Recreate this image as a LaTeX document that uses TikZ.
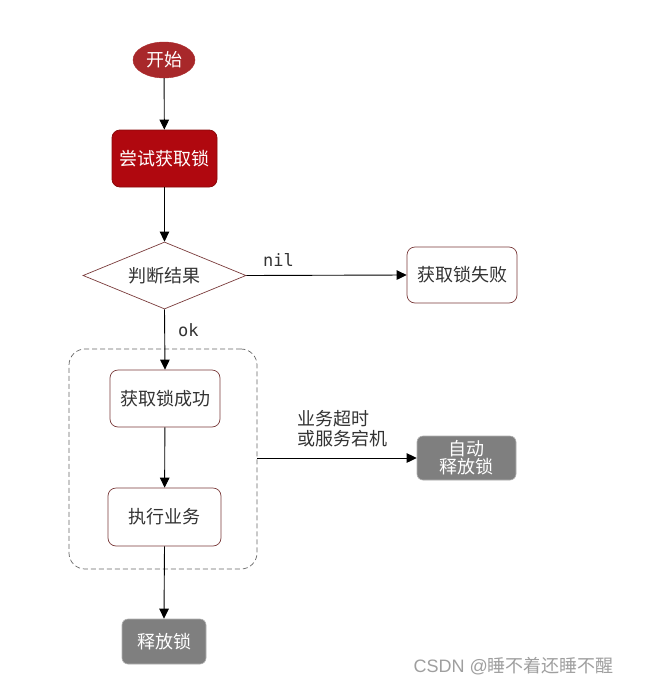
\documentclass[tikz,border=0pt]{standalone}
\usepackage{fontspec}
\setmainfont{Noto Sans CJK SC}
\newfontfamily\monof{DejaVu Sans Mono}
\newfontfamily\wmf{Liberation Sans}
\usetikzlibrary{arrows.meta,shapes.geometric}
\definecolor{startred}{HTML}{A8282A}
\definecolor{tryred}{HTML}{B0080F}
\definecolor{tryborder}{HTML}{8A0A0A}
\definecolor{edge}{HTML}{7A3B3B}
\definecolor{grayfill}{HTML}{7F7F7F}
\definecolor{txt}{HTML}{333333}
\tikzset{
  conn/.style={draw=black, line width=0.9pt, -{Triangle[length=10pt,width=9.5pt]}},
  plainbox/.style={draw=edge, line width=0.7pt, fill=white, rounded corners=8pt,
    minimum width=110pt, minimum height=57pt, text=txt, font=\fontsize{18}{20}\selectfont},
  graybox/.style={draw=gray!60, line width=0.6pt, fill=grayfill, rounded corners=6pt,
    text=white, font=\fontsize{18}{20}\selectfont, align=center, inner sep=0pt},
  lbl/.style={text=txt, font=\fontsize{18}{20}\selectfont, align=left, inner sep=0pt},
  monolbl/.style={text=txt, font=\monof\fontsize{17}{20}\selectfont, inner sep=0pt}
}
\begin{document}
\begin{tikzpicture}[x=1pt,y=-1pt]
\useasboundingbox (0,0) rectangle (665,686);
\fill[white] (0,0) rectangle (665,686);
% nodes
\node[ellipse, fill=startred, draw=startred, minimum width=62pt, minimum height=36pt, inner sep=0pt,
  text=white, font=\fontsize{18}{20}\selectfont] (start) at (164,60) {开始};
\node[draw=tryborder, fill=tryred, line width=0.8pt, rounded corners=8pt, minimum width=105pt,
  minimum height=57pt, text=white, font=\fontsize{18}{20}\selectfont] (try) at (164.5,158.5) {尝试获取锁};
\node[diamond, draw=edge, line width=0.7pt, fill=white, minimum width=163pt, minimum height=67pt,
  inner sep=0pt, aspect=2.4, text=txt, font=\fontsize{18}{20}\selectfont] (judge) at (164.5,275.5) {判断结果};
\node[plainbox, minimum width=110pt, minimum height=56pt] (fail) at (462,275) {获取锁失败};
\node[draw=gray!80!black, dashed, dash pattern=on 5pt off 3pt, line width=0.7pt, rounded corners=16pt,
  minimum width=188pt, minimum height=220pt] (group) at (163,459) {};
\node[plainbox, minimum width=110pt, minimum height=57pt] (succ) at (165,398.5) {获取锁成功};
\node[plainbox, minimum width=113pt, minimum height=58pt] (exec) at (164.5,517) {执行业务};
\node[graybox, minimum width=99pt, minimum height=44pt] (auto) at (466.5,458) {自动\\[-2pt]释放锁};
\node[graybox, minimum width=84pt, minimum height=45pt] (rel) at (164,641.5) {释放锁};
% connectors
\draw[conn] (start) -- (try);
\draw[conn] (try) -- (judge);
\draw[conn] (judge.east) -- node[monolbl, above=8pt, pos=0.2] (nil) {nil} (fail.west);
\draw[conn] (judge.south) -- node[monolbl, right=13pt, pos=0.35] (ok) {ok} (succ.north);
\draw[conn] (succ) -- (exec);
\draw[conn] (exec.south) -- (rel.north);
\draw[conn] (group.east |- auto.west) -- (auto.west);
\node[lbl, anchor=west] (why) at (297,429) {业务超时\\或服务宕机};
% watermark
\node[text=gray!75, font=\fontsize{18}{20}\selectfont, inner sep=0pt, anchor=east] (wm) at (614,666)
  {{\wmf CSDN @}睡不着还睡不醒};
\end{tikzpicture}
\end{document}
